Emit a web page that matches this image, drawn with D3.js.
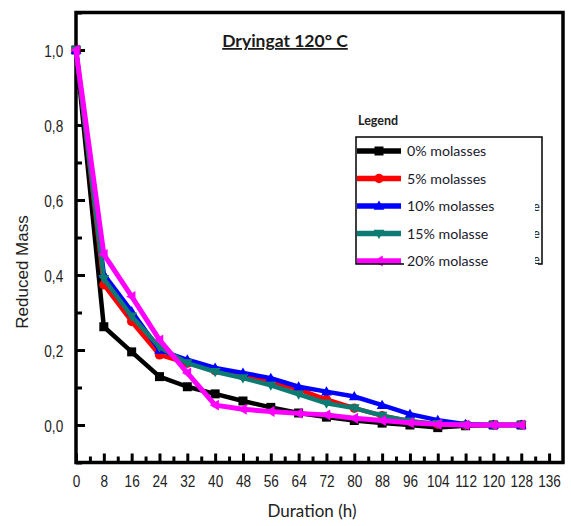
<!DOCTYPE html>
<html>
<head>
<meta charset="utf-8">
<script src="https://cdn.jsdelivr.net/npm/d3@7"></script>
<style>
  body { margin: 0; background: #fff; }
  svg { display: block; }
</style>
</head>
<body>
<div id="chart"></div>
<script>
// durations (h)
var hours = [0, 8, 16, 24, 32, 40, 48, 56, 64, 72, 80, 88, 96, 104, 112, 120, 128];

// reduced mass per molasses level
var m0  = [1.0, 0.262, 0.195, 0.129, 0.102, 0.083, 0.064, 0.047, 0.032, 0.021, 0.012, 0.005, 0.0, -0.007, -0.002, 0.0, 0.0];
var m5  = [1.0, 0.374, 0.276, 0.187, 0.165, 0.145, 0.130, 0.115, 0.095, 0.068, 0.045, 0.025, 0.010, 0.002, 0.0, 0.0, 0.0];
var m10 = [1.0, 0.402, 0.303, 0.200, 0.174, 0.152, 0.139, 0.125, 0.102, 0.089, 0.076, 0.053, 0.029, 0.013, 0.002, 0.0, 0.0];
var m15 = [1.0, 0.390, 0.290, 0.208, 0.165, 0.142, 0.125, 0.106, 0.082, 0.058, 0.045, 0.025, 0.010, 0.003, 0.0, 0.0, 0.0];
var m20 = [1.0, 0.455, 0.343, 0.227, 0.139, 0.053, 0.042, 0.036, 0.031, 0.027, 0.018, 0.012, 0.006, 0.002, 0.0, 0.0, 0.0];

var seriesNames = ["0% molasses", "5% molasses", "10% molasses", "15% molasse", "20% molasse"];
var seriesColors = ["#000000", "#ff0000", "#0000ff", "#0b7b73", "#ff00ff"];
var seriesSymbols = ["square", "circle", "up", "down", "left"];
var seriesValues = [m0, m5, m10, m15, m20];

var xTicks = d3.range(0, 137, 8);
var xMinor = d3.range(4, 140, 8);
var yTicks = [0, 0.2, 0.4, 0.6, 0.8, 1.0];
var yMinor = [-0.1, 0.1, 0.3, 0.5, 0.7, 0.9, 1.1];

var W = 571, H = 526;
var svg = d3.select("#chart").append("svg").attr("width", W).attr("height", H);

var x = d3.scaleLinear().domain([0, 140]).range([76, 563]);
var y = d3.scaleLinear().domain([-0.1, 1.1]).range([462.5, 12.5]);

var tickFont = "'Liberation Sans', Arial, sans-serif";
var caliFont = "Lato, 'Open Sans', sans-serif";

// frame
svg.append("rect")
  .attr("x", x(0)).attr("y", y(1.1))
  .attr("width", x(140) - x(0)).attr("height", y(-0.1) - y(1.1))
  .attr("fill", "none").attr("stroke", "#000").attr("stroke-width", 3.5);

// axes with inward ticks
function styleAxis(sel) {
  sel.select(".domain").remove();
  sel.selectAll(".tick line").attr("stroke", "#000").attr("stroke-width", 3);
  sel.selectAll(".tick text")
    .attr("font-family", tickFont)
    .attr("font-size", 17)
    .attr("fill", "#222");
}

var xAxis = svg.append("g")
  .attr("transform", "translate(0," + y(-0.1) + ")")
  .call(d3.axisBottom(x).tickValues(xTicks).tickSizeInner(-9).tickSizeOuter(0).tickPadding(15))
  .call(styleAxis);
xAxis.selectAll(".tick text").attr("transform", "scale(0.8,1)").attr("dy", "0.55em");

svg.append("g")
  .attr("transform", "translate(0," + y(-0.1) + ")")
  .call(d3.axisBottom(x).tickValues(xMinor).tickSizeInner(-6).tickSizeOuter(0).tickFormat(""))
  .call(styleAxis);

var yAxis = svg.append("g")
  .attr("transform", "translate(" + x(0) + ",0)")
  .call(d3.axisLeft(y).tickValues(yTicks).tickSizeInner(-9).tickSizeOuter(0).tickPadding(16)
    .tickFormat(function(d) { return d3.format(".1f")(d).replace(".", ","); }))
  .call(styleAxis);
yAxis.selectAll(".tick text").attr("transform", "scale(0.8,1) translate(0,1)");

svg.append("g")
  .attr("transform", "translate(" + x(0) + ",0)")
  .call(d3.axisLeft(y).tickValues(yMinor).tickSizeInner(-6).tickSizeOuter(0).tickFormat(""))
  .call(styleAxis);

// axis titles
svg.append("text")
  .attr("x", 312).attr("y", 517)
  .attr("text-anchor", "middle")
  .attr("font-family", caliFont)
  .attr("font-size", 17)
  .attr("fill", "#222")
  .text("Duration (h)");

svg.append("text")
  .attr("transform", "translate(28,272) rotate(-90)")
  .attr("text-anchor", "middle")
  .attr("font-family", "'Liberation Sans', Arial, sans-serif")
  .attr("font-size", 17)
  .attr("fill", "#222")
  .text("Reduced Mass");

// title
svg.append("text")
  .attr("x", 285).attr("y", 47)
  .attr("text-anchor", "middle")
  .attr("font-family", caliFont)
  .attr("font-weight", "bold")
  .attr("font-size", 17.5)
  .attr("fill", "#1a1a1a")
  .attr("text-decoration", "underline")
  .text("Dryingat 120\u00b0 C");

// marker shapes
function symbolPath(kind, size) {
  var s = size;
  if (kind === "square") return d3.symbol().type(d3.symbolSquare).size(s * s)();
  if (kind === "circle") return d3.symbol().type(d3.symbolCircle).size(s * s * 0.85)();
  var h = s * 0.6;
  if (kind === "up") return "M0," + (-h) + "L" + h + "," + h * 0.7 + "L" + (-h) + "," + h * 0.7 + "Z";
  if (kind === "down") return "M0," + h + "L" + h + "," + (-h * 0.7) + "L" + (-h) + "," + (-h * 0.7) + "Z";
  return "M" + (-h) + ",0L" + h * 0.7 + "," + (-h) + "L" + h * 0.7 + "," + h + "Z";
}

var lineGen = d3.line()
  .x(function(d) { return x(d[0]); })
  .y(function(d) { return y(d[1]); });

seriesValues.forEach(function(vals, i) {
  var pts = hours.map(function(h, j) { return [h, vals[j]]; });
  var sg = svg.append("g");
  sg.append("path")
    .attr("d", lineGen(pts))
    .attr("fill", "none")
    .attr("stroke", seriesColors[i])
    .attr("stroke-width", i === 4 ? 5 : 4.5)
    .attr("stroke-linejoin", "round");
  sg.selectAll("path.mk").data(pts).enter().append("path")
    .attr("class", "mk")
    .attr("transform", function(d) { return "translate(" + x(d[0]) + "," + y(d[1]) + ")"; })
    .attr("d", symbolPath(seriesSymbols[i], 9))
    .attr("fill", seriesColors[i]);
});

// legend
var leg = svg.append("g");
leg.append("text")
  .attr("x", 358).attr("y", 125)
  .attr("font-family", caliFont)
  .attr("font-weight", "bold")
  .attr("font-size", 12.5)
  .attr("fill", "#222")
  .text("Legend");

var defs = svg.append("defs");
defs.append("clipPath").attr("id", "legclip")
  .append("rect").attr("x", 350).attr("y", 130).attr("width", 190).attr("height", 137);

var legBody = leg.append("g").attr("clip-path", "url(#legclip)");
var rowY = [151, 178.5, 206, 233.5, 261];
seriesNames.forEach(function(name, i) {
  legBody.append("line")
    .attr("x1", 357).attr("x2", 401)
    .attr("y1", rowY[i]).attr("y2", rowY[i])
    .attr("stroke", seriesColors[i]).attr("stroke-width", 5.5);
  legBody.append("path")
    .attr("transform", "translate(379," + rowY[i] + ")")
    .attr("d", symbolPath(seriesSymbols[i], 9))
    .attr("fill", seriesColors[i]);
  legBody.append("text")
    .attr("x", 407).attr("y", rowY[i] + 5)
    .attr("font-family", caliFont)
    .attr("font-size", 14.2)
    .attr("fill", "#1a1a2a")
    .text(name);
});

// stray glyph fragments at the right edge of the legend
defs.append("clipPath").attr("id", "eclip")
  .append("rect").attr("x", 535).attr("y", 190).attr("width", 5).attr("height", 80);
var eg = leg.append("g").attr("clip-path", "url(#eclip)");
[211, 238, 264].forEach(function(yy) {
  eg.append("text").attr("x", 533).attr("y", yy)
    .attr("font-family", caliFont).attr("font-size", 13).attr("fill", "#222").text("e");
});

// legend frame
leg.append("path")
  .attr("d", "M404,264 L356,264 L356,137 L542,137 L542,264 L538,264")
  .attr("fill", "none").attr("stroke", "#000").attr("stroke-width", 1.5);
</script>
</body>
</html>
